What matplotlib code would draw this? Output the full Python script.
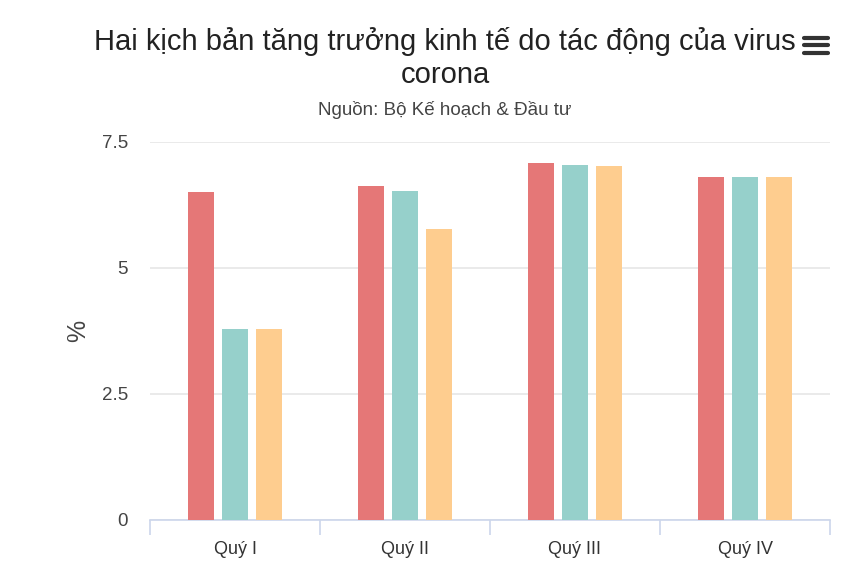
import matplotlib.pyplot as plt
from matplotlib.lines import Line2D
import numpy as np

plt.rcParams['font.family'] = ['Liberation Sans', 'DejaVu Sans']

categories = ['Quý I', 'Quý II', 'Quý III', 'Quý IV']
series_a = [6.5, 6.62, 7.08, 6.8]
series_b = [3.78, 6.52, 7.05, 6.8]
series_c = [3.78, 5.78, 7.02, 6.8]
colors = ['#e57777', '#96d0cb', '#fecd8f']

W, H = 850, 567
fig = plt.figure(figsize=(W / 100, H / 100), dpi=100)
ax = fig.add_axes([150 / W, 1 - 520 / H, 680 / W, (520 - 142) / H])

x = np.arange(len(categories))
width = 0.155
step = 0.2
for i, (vals, c) in enumerate(zip([series_a, series_b, series_c], colors)):
    ax.bar(x + (i - 1) * step, vals, width, color=c, zorder=3)

ax.set_xlim(-0.5, 3.5)
ax.set_ylim(0, 7.5)
ax.set_yticks([0, 2.5, 5, 7.5])
ax.set_yticklabels(['0', '2.5', '5', '7.5'])
ax.yaxis.grid(True, color='#e6e6e6', linewidth=1.2, zorder=0)
ax.tick_params(axis='y', length=0, pad=16, labelsize=13.5, labelcolor='#444444')

ax.set_xticks(x)
ax.set_xticklabels(categories)
ax.tick_params(axis='x', length=0, pad=15, labelsize=13, labelcolor='#333333')
ax.set_xticks(np.arange(-0.5, 4.0, 1.0), minor=True)
ax.tick_params(axis='x', which='minor', length=11, color='#ccd6eb', width=1.2)

for s in ['top', 'right', 'left']:
    ax.spines[s].set_visible(False)
ax.spines['bottom'].set_color('#ccd6eb')
ax.spines['bottom'].set_linewidth(1.2)

ax.set_ylabel('%', fontsize=18, color='#444444', labelpad=8)

fig.text(445 / W, 1 - 42 / H, 'Hai kịch bản tăng trưởng kinh tế do tác động của virus',
         ha='center', va='center', fontsize=21, color='#222222')
fig.text(445 / W, 1 - 75 / H, 'corona', ha='center', va='center', fontsize=21, color='#222222')
fig.text(445 / W, 1 - 110 / H, 'Nguồn: Bộ Kế hoạch & Đầu tư',
         ha='center', va='center', fontsize=13.5, color='#444444')

# menu icon
for yy in [37.5, 45, 52.5]:
    fig.add_artist(Line2D([804 / W, 828 / W], [1 - yy / H, 1 - yy / H],
                          color='#333333', linewidth=3, solid_capstyle='round'))

fig.savefig('out.png', dpi=100)
